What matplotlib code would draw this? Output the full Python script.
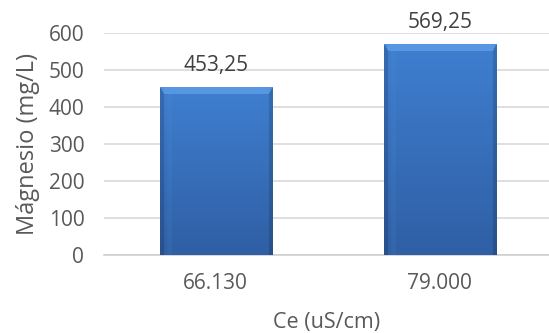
import numpy as np
import matplotlib

matplotlib.use("Agg")

import matplotlib.pyplot as plt
from matplotlib.colors import to_rgb

categories = ["66.130", "79.000"]
values = [453.25, 569.25]
value_labels = ["453,25", "569,25"]
y_ticks = [0, 100, 200, 300, 400, 500, 600]

plt.rcParams["font.family"] = ["Open Sans", "DejaVu Sans"]
text_color = "#595959"

fig = plt.figure(figsize=(5.49, 3.33), dpi=100)
ax = fig.add_axes([0.189, 0.234, 0.811, 0.667])

x = np.arange(len(categories))
bar_w = 0.5

bars = ax.bar(x, values, width=bar_w, color="#3a6fb8", zorder=2)


def bar_image(h_rows, w_cols, bevel_top, bevel_side):
    # vertical gradient, lighter top bevel, darker side edges
    top = np.array(to_rgb("#3f7fd0"))
    bot = np.array(to_rgb("#2f5fa4"))
    t = np.linspace(0, 1, h_rows)[:, None, None]
    img = top * (1 - t) + bot * t
    img = np.repeat(img, w_cols, axis=1)
    rows, cols = np.mgrid[0:h_rows, 0:w_cols]
    dist_side = np.minimum(cols, w_cols - 1 - cols)
    side = dist_side < bevel_side
    img[side] = img[side] * 0.85
    bevel = (rows < bevel_top) & (dist_side >= rows * bevel_side / bevel_top)
    hi = np.array(to_rgb("#62a2ea"))
    img[bevel] = hi * 0.7 + img[bevel] * 0.3
    # faint lighter band inside the bar
    band = (cols > w_cols * 0.06) & (cols < w_cols * 0.1) & ~bevel
    img[band] = img[band] * 0.9 + 0.1 * np.array(to_rgb("#5a96dc"))
    return img


for rect, val in zip(bars, values):
    h_px = int(round(val * 222 / 600))
    w_px = 112
    img = bar_image(h_px, w_px, 7, 4)
    x0 = rect.get_x()
    im = ax.imshow(img, extent=(x0, x0 + rect.get_width(), 0, val),
                   aspect="auto", zorder=3, interpolation="bilinear")
    im.set_clip_path(rect)
    rect.set_visible(False)

ax.set_xlim(-0.5, 1.487)
ax.set_ylim(0, 600)

for xi, val, lab in zip(x, values, value_labels):
    ax.annotate(lab, (xi, val), xytext=(0, 8), textcoords="offset points",
                ha="center", va="bottom", fontsize=15, color="#404040")

ax.set_yticks(y_ticks)
ax.set_xticks(x)
ax.set_xticklabels(categories)
ax.tick_params(axis="both", length=0, labelsize=15, colors=text_color)
ax.tick_params(axis="x", pad=13)
ax.tick_params(axis="y", pad=14)
ax.yaxis.grid(True, color="#d9d9d9", linewidth=1.2, zorder=0)
ax.set_axisbelow(True)
for s in ["top", "right", "left"]:
    ax.spines[s].set_visible(False)
ax.spines["bottom"].set_color("#d0d0d0")
ax.spines["bottom"].set_linewidth(1.2)

ax.set_ylabel("Mágnesio (mg/L)", fontsize=17, color=text_color, labelpad=6)
ax.set_xlabel("Ce (uS/cm)", fontsize=15.5, color=text_color, labelpad=13)

fig.savefig("out.png", dpi=100)
